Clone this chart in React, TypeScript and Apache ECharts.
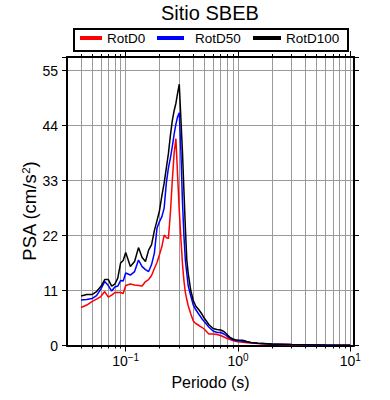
import React, { useEffect, useRef } from "react";
import * as echarts from "echarts";

const periods = [
  0.04, 0.045, 0.05, 0.055, 0.06, 0.065, 0.07, 0.075, 0.08, 0.085, 0.09, 0.095,
  0.1, 0.11, 0.12, 0.13, 0.14, 0.15, 0.16, 0.17, 0.18, 0.19, 0.2,
  0.21, 0.22, 0.23, 0.24, 0.25, 0.26, 0.27, 0.28, 0.29, 0.3, 0.31, 0.32, 0.33, 0.34, 0.35, 0.36,
  0.38, 0.4, 0.42, 0.45, 0.48, 0.5,
  0.55, 0.6, 0.65, 0.7, 0.75, 0.8, 0.85, 0.9, 0.95, 1.0,
  1.1, 1.2, 1.3, 1.5, 1.7, 2.0, 2.5, 3.0, 4.0, 5.0, 6.0, 7.5, 10.0,
];

const rotD0 = [
  7.6, 8.1, 8.8, 9.3, 9.8, 10.8, 9.7, 10.1, 10.6, 10.6, 10.6, 10.4,
  12.0, 12.3, 12.1, 12.0, 11.9, 12.8, 13.2, 14.0, 15.4, 16.6, 18.2,
  19.8, 22.1, 21.6, 21.4, 26.5, 33.0, 38.5, 41.4, 34.0, 27.0, 21.5, 16.5, 13.0, 10.6, 9.2, 8.0,
  6.3, 4.9, 4.4, 4.0, 3.6, 3.3,
  2.3, 2.3, 2.2, 2.0, 1.7, 1.4, 1.2, 1.0, 0.85, 0.75,
  0.65, 0.55, 0.48, 0.38, 0.3, 0.25, 0.2, 0.15, 0.1, 0.08, 0.06, 0.05, 0.03,
];

const rotD50 = [
  9.1, 9.2, 9.4, 10.0, 11.3, 12.8, 12.0, 10.9, 11.7, 11.9, 13.0, 12.9,
  14.5, 14.1, 14.8, 17.1, 15.8, 15.2, 14.8, 16.2, 18.5, 23.5, 24.8,
  25.8, 27.5, 32.5, 35.5, 37.5, 39.8, 42.3, 44.3, 45.8, 46.6, 39.0, 29.0, 22.0, 17.0, 14.5, 12.0,
  9.9, 8.1, 7.2, 6.2, 5.3, 4.8,
  3.7, 2.9, 2.6, 2.6, 2.3, 1.85, 1.5, 1.15, 1.0, 0.95,
  0.85, 0.7, 0.6, 0.45, 0.38, 0.3, 0.22, 0.18, 0.13, 0.1, 0.07, 0.05, 0.04,
];

const rotD100 = [
  9.9, 10.2, 10.2, 10.8, 11.8, 13.2, 13.2, 11.9, 12.3, 13.5, 16.5, 17.0,
  18.6, 15.8, 16.8, 19.6, 17.6, 16.8, 19.1, 20.2, 23.0, 25.0, 27.0,
  30.0, 32.5, 35.5, 38.4, 42.0, 45.0, 47.0, 48.5, 50.5, 52.3, 45.5, 39.0, 31.0, 23.5, 17.2, 14.5,
  11.0, 9.0, 7.9, 7.1, 6.2, 5.5,
  4.2, 3.4, 3.2, 3.1, 2.8, 2.2, 1.6, 1.3, 1.15, 1.1,
  1.05, 0.8, 0.6, 0.45, 0.4, 0.3, 0.25, 0.2, 0.15, 0.1, 0.08, 0.06, 0.04,
];

const seriesNames = ["RotD0", "RotD50", "RotD100"];
const seriesColors = ["#ff0000", "#0000ff", "#000000"];
const xMajorTicks = [0.1, 1, 10];
const xMinorTicks = [
  0.04, 0.05, 0.06, 0.07, 0.08, 0.09,
  0.2, 0.3, 0.4, 0.5, 0.6, 0.7, 0.8, 0.9,
  2, 3, 4, 5, 6, 7, 8, 9,
];
const yTickStep = 11;
const titleText = "Sitio SBEB";
const xName = "Periodo (s)";
const yName = "PSA (cm/s{sup|2})";

const FONT = "'Liberation Sans', Arial, Helvetica, sans-serif";
const X_MIN = 0.03;
const X_MAX = 10.8;
const Y_MAX = 57.75;

export default function App() {
  const ref = useRef<HTMLDivElement>(null);

  useEffect(() => {
    if (!ref.current) return;
    const chart = echarts.init(ref.current, null, { renderer: "svg" });

    const frame = { show: true, onZero: false, lineStyle: { color: "#000", width: 2 } };
    const grayGrid = { show: true, lineStyle: { color: "#9a9a9a", width: 1 } };
    const baseX = { type: "log", logBase: 10, min: X_MIN, max: X_MAX, gridIndex: 0 };

    const dataOf = (vals: number[]) => periods.map((p, i) => [p, vals[i]]);

    const legendPos = [
      { left: 80, w: 22, pad: 0 },
      { left: 157, w: 27, pad: 6 },
      { left: 253, w: 28, pad: 0 },
    ];

    chart.setOption({
      animation: false,
      textStyle: { fontFamily: FONT },
      title: {
        text: titleText,
        left: 161,
        top: 3,
        padding: 0,
        textStyle: { fontSize: 20, fontWeight: "normal", color: "#000", fontFamily: FONT },
      },
      graphic: [
        {
          type: "rect",
          left: 73,
          top: 28,
          shape: { width: 274, height: 22 },
          style: { fill: "#fff", stroke: "#000", lineWidth: 2 },
          z: -1,
        },
      ],
      legend: legendPos.map((lp, i) => ({
        data: [seriesNames[i]],
        left: lp.left,
        top: 31,
        padding: 0,
        icon: "rect",
        itemWidth: lp.w,
        itemHeight: 4,
        textStyle: {
          fontSize: 13.5,
          color: "#000",
          fontFamily: FONT,
          padding: [0, 0, 0, lp.pad],
        },
        selectedMode: false,
      })),
      grid: { left: 67, right: 36, top: 57, bottom: 54.5, containLabel: false },
      xAxis: [
        {
          ...baseX,
          position: "bottom",
          axisLine: frame,
          axisTick: { show: true, inside: false, length: 6, customValues: xMajorTicks, lineStyle: { color: "#000", width: 1 } },
          axisLabel: {
            customValues: xMajorTicks,
            margin: 7,
            formatter: (v: number) => {
              const e = Math.round(Math.log10(v));
              return `{b|10}{s|${e < 0 ? "\u2212" : ""}${Math.abs(e)}}`;
            },
            rich: {
              b: { fontSize: 14, color: "#000", fontFamily: FONT, lineHeight: 16 },
              s: { fontSize: 10, color: "#000", fontFamily: FONT, verticalAlign: "top", lineHeight: 11 },
            },
          },
          splitLine: { ...grayGrid, customValues: xMajorTicks },
          name: xName,
          nameLocation: "middle",
          nameGap: 29,
          nameMoveOverlap: false,
          nameTextStyle: { fontSize: 16, color: "#000", fontFamily: FONT },
        },
        {
          ...baseX,
          position: "bottom",
          axisLine: { show: false, onZero: false },
          axisTick: { show: true, inside: false, length: 3, customValues: xMinorTicks, lineStyle: { color: "#000", width: 1 } },
          axisLabel: { show: false },
          splitLine: { ...grayGrid, customValues: xMinorTicks },
        },
        {
          ...baseX,
          position: "top",
          axisLine: frame,
          axisTick: { show: true, inside: false, length: 6, customValues: xMajorTicks, lineStyle: { color: "#000", width: 1 } },
          axisLabel: { show: false },
          splitLine: { show: false },
        },
        {
          ...baseX,
          position: "top",
          axisLine: { show: false, onZero: false },
          axisTick: { show: true, inside: false, length: 3, customValues: xMinorTicks, lineStyle: { color: "#000", width: 1 } },
          axisLabel: { show: false },
          splitLine: { show: false },
        },
      ],
      yAxis: [
        {
          type: "value",
          min: 0,
          max: Y_MAX,
          interval: yTickStep,
          position: "left",
          axisLine: frame,
          axisTick: { show: true, inside: false, length: 5, lineStyle: { color: "#000", width: 1 } },
          axisLabel: {
            margin: 9,
            fontSize: 14,
            color: "#000",
            fontFamily: FONT,
            formatter: (v: number) => (Math.abs(v / yTickStep - Math.round(v / yTickStep)) < 1e-6 ? String(v) : ""),
          },
          splitLine: grayGrid,
          name: yName,
          nameLocation: "middle",
          nameGap: 28,
          nameMoveOverlap: false,
          nameTextStyle: {
            fontSize: 18.5,
            color: "#000",
            fontFamily: FONT,
            padding: [0, 20, 0, 0],
            rich: { sup: { fontSize: 11.5, verticalAlign: "top", color: "#000", fontFamily: FONT } },
          },
        },
        {
          type: "value",
          min: 0,
          max: Y_MAX,
          interval: yTickStep,
          position: "right",
          axisLine: frame,
          axisTick: { show: true, inside: false, length: 5, lineStyle: { color: "#000", width: 1 } },
          axisLabel: { show: false },
          splitLine: { show: false },
        },
      ],
      series: [rotD0, rotD50, rotD100].map((vals, i) => ({
        name: seriesNames[i],
        type: "line",
        xAxisIndex: 0,
        yAxisIndex: 0,
        data: dataOf(vals),
        showSymbol: false,
        symbol: "none",
        color: seriesColors[i],
        lineStyle: { color: seriesColors[i], width: 1.5 },
        z: 3 + i,
      })),
    });

    return () => chart.dispose();
  }, []);

  return (
    <div
      ref={ref}
      style={{ position: "fixed", left: 0, top: 0, width: 390, height: 400, background: "#fff" }}
    />
  );
}
